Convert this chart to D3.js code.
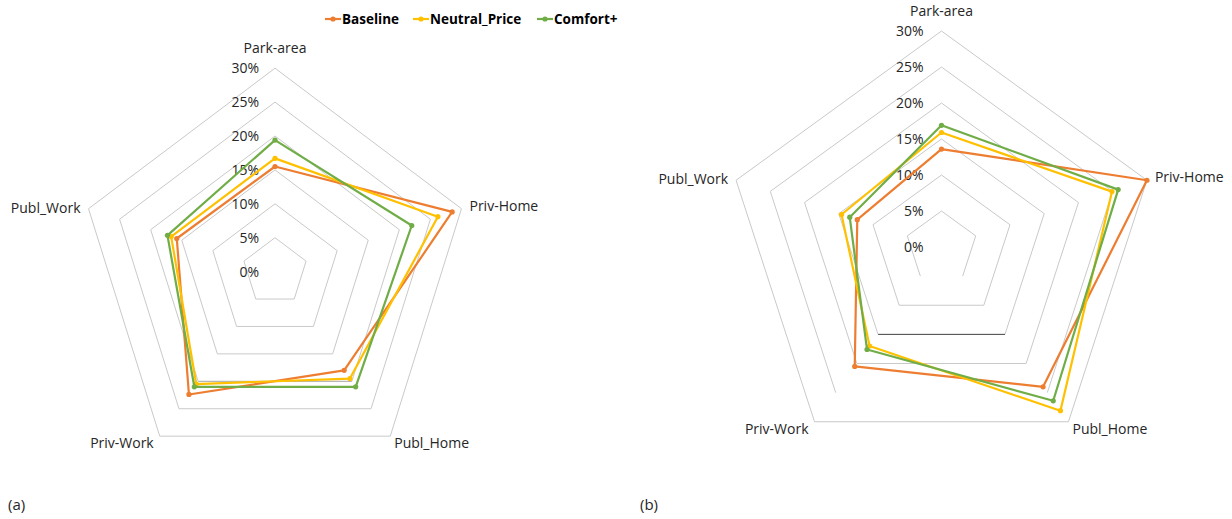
<!DOCTYPE html>
<html>
<head>
<meta charset="utf-8">
<script src="https://cdn.jsdelivr.net/npm/d3@7"></script>
<style>
  html, body { margin: 0; padding: 0; background: #fff; }
  svg { display: block; font-family: "Open Sans", "Noto Sans", sans-serif; }
</style>
</head>
<body>
<svg id="chart" width="1232" height="519"></svg>
<script>
// Share of trips per parking category, in percent
const categories = ["Park-area", "Priv-Home", "Publ_Home", "Priv-Work", "Publ_Work"];
const seriesNames = ["Baseline", "Neutral_Price", "Comfort+"];
const seriesColors = ["#ED7D31", "#FFC000", "#70AD47"];
const tickValues = [0, 5, 10, 15, 20, 25, 30];
const tickLabels = ["0%", "5%", "10%", "15%", "20%", "25%", "30%"];

// Panel (a)
const baselineA = [15.5, 28.5, 18.0, 22.4, 15.8];
const neutralA  = [16.7, 26.2, 19.5, 20.5, 16.7];
const comfortA  = [19.4, 22.0, 21.0, 21.0, 17.3];

// Panel (b)
const baselineB = [13.6, 30.0, 24.0, 20.5, 12.3];
const neutralB  = [15.9, 24.9, 28.1, 17.0, 14.6];
const comfortB  = [16.9, 25.8, 26.4, 17.6, 13.4];

const svg = d3.select("#chart");
const textColor = "#262626";
const gridColor = "#c9c9c9";

function drawRadar(opt) {
  const g = svg.append("g");
  const r = d3.scaleLinear().domain([0, 30]).range([0, opt.radius]);
  const angle = d3.scaleLinear().domain([0, categories.length]).range([0, 2 * Math.PI]);
  const pt = (i, v) => {
    const a = angle(i);
    return [opt.cx + r(v) * Math.sin(a) * opt.sx, opt.cy - r(v) * Math.cos(a)];
  };

  // pentagon rings, edge by edge (edge k joins vertex k and k+1)
  tickValues.forEach(t => {
    if (t === 0) return;
    categories.forEach((c, k) => {
      const style = (opt.edgeStyle[t] || {})[k];
      if (style === "none") return;
      const p0 = pt(k, t), p1 = pt((k + 1) % categories.length, t);
      g.append("line")
        .attr("x1", p0[0]).attr("y1", p0[1])
        .attr("x2", p1[0]).attr("y2", p1[1])
        .attr("stroke", style || gridColor)
        .attr("stroke-width", 1);
    });
  });

  // radial axis tick labels
  g.selectAll("text.tick").data(tickValues).join("text")
    .attr("class", "tick")
    .attr("x", opt.cx - opt.tickOffset)
    .attr("y", d => opt.cy - r(d))
    .attr("dy", "0.35em")
    .attr("text-anchor", "end")
    .attr("font-size", 14)
    .attr("fill", textColor)
    .text((d, i) => tickLabels[i]);

  // category labels around the outer ring
  const labelPlace = [
    { dx: 0, dy: -20, anchor: "middle" },
    { dx: 8, dy: -3, anchor: "start" },
    { dx: 4, dy: 7, anchor: "start" },
    { dx: -6, dy: 7, anchor: "end" },
    { dx: -8, dy: -1, anchor: "end" }
  ];
  categories.forEach((c, i) => {
    const p = pt(i, 30);
    g.append("text")
      .attr("x", p[0] + labelPlace[i].dx)
      .attr("y", p[1] + labelPlace[i].dy)
      .attr("dy", "0.35em")
      .attr("text-anchor", labelPlace[i].anchor)
      .attr("font-size", 14)
      .attr("fill", textColor)
      .text(c);
  });

  // series polygons with markers
  const line = d3.line().curve(d3.curveLinearClosed);
  opt.series.forEach((vals, s) => {
    const pts = vals.map((v, i) => pt(i, v));
    g.append("path")
      .attr("d", line(pts))
      .attr("fill", "none")
      .attr("stroke", seriesColors[s])
      .attr("stroke-width", 2.2)
      .attr("stroke-linejoin", "round");
    g.selectAll(null).data(pts).join("circle")
      .attr("cx", d => d[0]).attr("cy", d => d[1])
      .attr("r", 2.6)
      .attr("fill", seriesColors[s]);
  });

  // panel tag
  svg.append("text")
    .attr("x", opt.tagX).attr("y", 505)
    .attr("dy", "0.35em")
    .attr("font-size", 15)
    .attr("fill", textColor)
    .text(opt.tag);
}

drawRadar({
  cx: 275, cy: 271.6, radius: 203.4, sx: 0.964, tickOffset: 16,
  series: [baselineA, neutralA, comfortA],
  edgeStyle: { 20: { 2: "#a6a6a6" } },
  tag: "(a)", tagX: 8
});

drawRadar({
  cx: 941.5, cy: 247, radius: 216, sx: 1, tickOffset: 18,
  series: [baselineB, neutralB, comfortB],
  edgeStyle: { 5: { 2: "none" }, 15: { 2: "#404040" }, 25: { 2: "none" } },
  tag: "(b)", tagX: 640
});

// legend
const legend = svg.append("g").attr("transform", "translate(0,19)");
const legendX = [325, 413, 537];
seriesNames.forEach((name, i) => {
  const gi = legend.append("g").attr("transform", `translate(${legendX[i]},0)`);
  gi.append("line").attr("x1", 0).attr("x2", 16).attr("y1", 0).attr("y2", 0)
    .attr("stroke", seriesColors[i]).attr("stroke-width", 2.2);
  gi.append("circle").attr("cx", 8).attr("cy", 0).attr("r", 2.6).attr("fill", seriesColors[i]);
  gi.append("text").attr("x", 17).attr("dy", "0.35em")
    .attr("font-size", 13.5).attr("font-weight", "bold")
    .attr("fill", "#000").text(name);
});
</script>
</body>
</html>
